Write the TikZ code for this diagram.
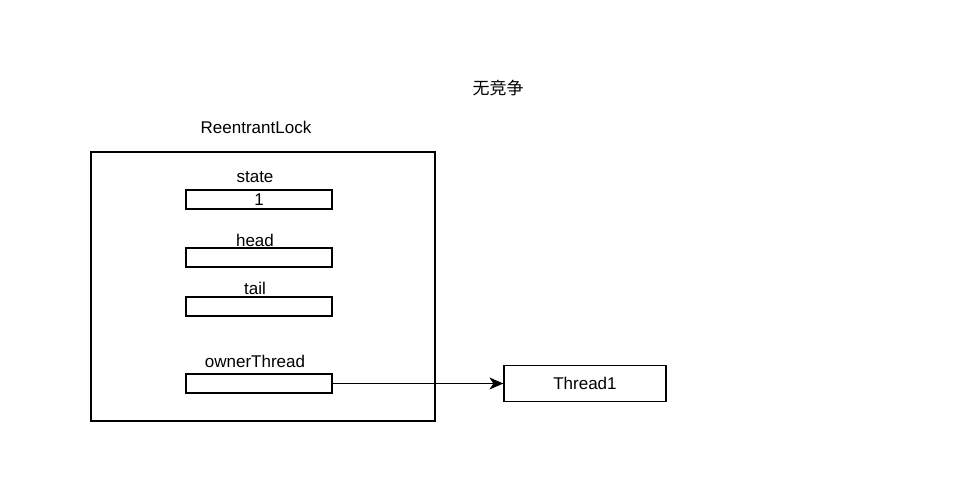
\documentclass[tikz,border=0pt]{standalone}
\usepackage{fontspec}
\setmainfont{Liberation Sans}
\newfontfamily\cjk{Noto Sans CJK SC}
\usetikzlibrary{arrows.meta}
\tikzset{
  field/.style={draw, line width=1.2pt, minimum width=146pt, minimum height=19pt, inner sep=0pt},
  box/.style={draw, line width=1.2pt, inner sep=0pt},
  txt/.style={inner sep=0pt, font=\fontsize{17}{20}\selectfont}
}
\begin{document}
\begin{tikzpicture}[x=1pt,y=-1pt]
                \useasboundingbox (0,0) rectangle (954,494);
                % Title
                \node[txt, font=\cjk\fontsize{17}{20}\selectfont] (title) at (498,88) {无竞争};
                % Lock object
                \node[box, minimum width=344pt, minimum height=269pt] (lock) at (263,286.5) {};
                \node[txt] (locklabel) at (256,127) {ReentrantLock};
                % Fields
                \node[field, txt] (state) at (259,199.5) {1};
                \node[field] (head) at (259,257.5) {};
                \node[field] (tail) at (259,306.5) {};
                \node[field] (owner) at (259,383.5) {};
                % Field labels
                \node[txt] (statelabel) at (255,177) {state};
                \node[txt] (headlabel) at (255,240) {head};
                \node[txt] (taillabel) at (255,288) {tail};
                \node[txt] (ownerlabel) at (255,361) {ownerThread};
                % Thread
                \node[box, txt, minimum width=162pt, minimum height=36pt] (thread) at (585,383.5) {Thread1};
                \draw[line width=1.4pt, -{Stealth[length=14pt,width=12pt,inset=4pt]}] (owner.east) -- (thread.west);
            \end{tikzpicture}
\end{document}
